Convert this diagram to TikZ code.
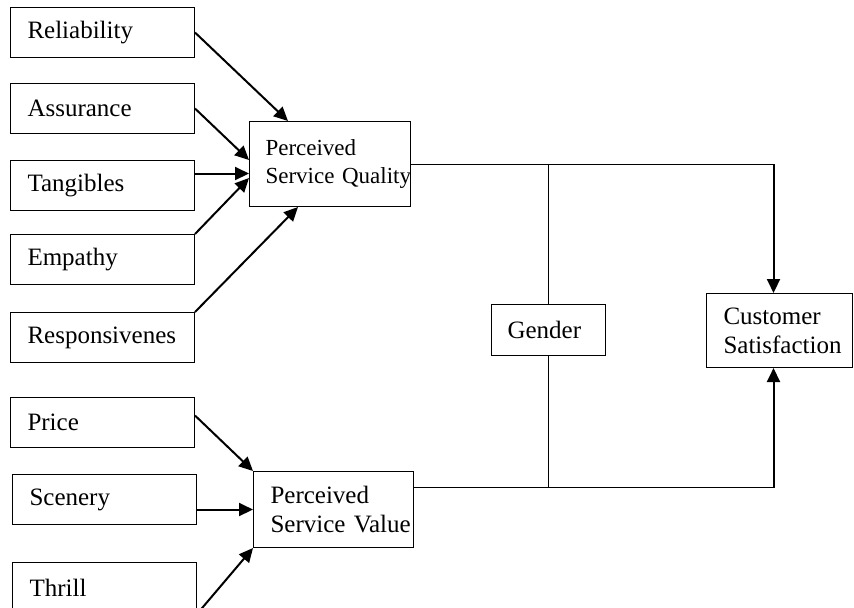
\documentclass[tikz,border=0pt]{standalone}
\usepackage{fontspec}
\setmainfont{Liberation Serif}
\usepackage{tikz}
\usetikzlibrary{arrows.meta,positioning,calc}

\begin{document}
\begin{tikzpicture}[
    x=0.5pt, y=-0.5pt,
    box/.style={draw=black, line width=0.5pt, align=left, inner ysep=0pt, font=\fontsize{12.5}{14.5}\selectfont},
    factor/.style={box, text width=75pt, inner xsep=8.5pt, minimum height=25pt},
    arrow/.style={-{Triangle[length=7pt,width=6.5pt]}, line width=1pt, draw=black},
    link/.style={line width=0.5pt, draw=black}
]
\useasboundingbox (0,0) rectangle (854,607);
% service quality factors
\node[factor, anchor=north west] (rel) at (10,7) {Reliability};
\node[factor, below=12.5pt of rel] (ass) {Assurance};
\node[factor, below=13pt of ass] (tang) {Tangibles};
\node[factor, below=11.5pt of tang] (emp) {Empathy};
\node[factor, below=13.5pt of emp] (resp) {Responsivenes};
% service value factors
\node[factor, below=17pt of resp] (price) {Price};
\node[factor, below=13pt of price, xshift=1pt] (scen) {Scenery};
\node[factor, below=18.5pt of scen, minimum height=25.5pt] (thrill) {Thrill};
% constructs
\node[box, anchor=north west, text width=64.5pt, inner xsep=8pt, minimum height=42.5pt,
      font=\fontsize{11.5}{14}\selectfont] (psq) at (249,121) {Perceived\\\mbox{Service Quality}};
\node[box, anchor=north west, text width=63pt, inner xsep=8.5pt, minimum height=38pt] (psv) at (253,471) {Perceived\\\mbox{Service Value}};
\node[box, anchor=north west, text width=41pt, inner xsep=8pt, minimum height=25.5pt] (gender) at (491,304) {Gender};
\node[box, anchor=north west, text width=56pt, inner xsep=8.5pt, minimum height=37pt] (cs) at (706,293) {Customer\\\mbox{Satisfaction}};
\draw[arrow] (rel.east) -- ([xshift=-21pt]psq.north);
\draw[arrow] (ass.east) -- ([yshift=2pt]psq.west);
\draw[arrow] ([yshift=6pt]tang.east) -- ([yshift=6pt]tang.east -| psq.west);
\draw[arrow] (emp.north east) -- ([yshift=-7pt]psq.west);
\draw[arrow] (resp.north east) -- ([xshift=-16pt]psq.south);
\draw[arrow] ([yshift=3.5pt]price.east) -- (psv.north west);
\draw[arrow] (scen.east |- psv.west) -- (psv.west);
\draw[arrow] (thrill.south east) -- (psv.south west);
% moderated paths
\coordinate (qturn) at ([xshift=-3pt]cs.north |- psq.east);
\coordinate (vstart) at ([yshift=11pt]psv.east);
\coordinate (vturn) at (qturn |- vstart);
\draw[link] (psq.east) -- (qturn);
\draw[arrow] (qturn) -- (qturn |- cs.north);
\draw[link] (vstart) -- (vturn);
\draw[arrow] (vturn) -- (vturn |- cs.south);
\draw[link] (gender.north |- psq.east) -- (gender.north);
\draw[link] (gender.south) -- (gender.south |- vstart);
\end{tikzpicture}
\end{document}
